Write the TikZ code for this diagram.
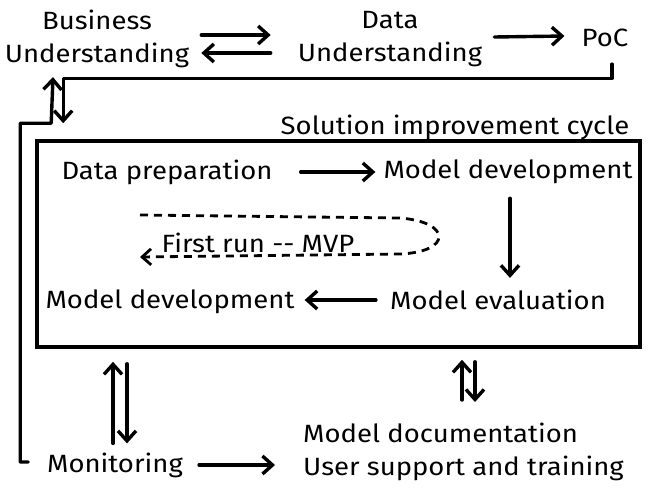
\documentclass[tikz,border=0pt]{standalone}
\usepackage{fontspec}
\setmainfont{Fira Sans}[FakeStretch=1.1]
\usetikzlibrary{arrows.meta}
\begin{document}
\begin{tikzpicture}[x=1pt,y=-1pt,
  lbl/.style={font=\fontsize{25}{33}\selectfont, inner sep=0pt, align=center},
  conn/.style={line width=3.4pt, line cap=round, line join=round,
    -{Straight Barb[length=10pt,width=18pt,line width=3.4pt]}},
  frame/.style={draw, line width=3.6pt, minimum width=603pt, minimum height=206pt, inner sep=0pt},
  dashline/.style={line width=2.8pt, dash pattern=on 8pt off 6pt,
    -{Straight Barb[length=9pt,width=16pt,line width=2.8pt]}}]
\useasboundingbox (0,0) rectangle (662,501);

% top row
\node[lbl] (bu) at (97,39) {Business\\Understanding};
\node[lbl] (du) at (390,39) {Data\\Understanding};
\node[lbl] (poc) at (605,38) {PoC};
\node[lbl] (sic) at (455,127) {Solution improvement cycle};

% frame
\node[frame] (box) at (338.5,244) {};

% inside
\node[lbl] (dp) at (167,172) {Data preparation};
\node[lbl] (md1) at (508,172) {Model development};
\node[lbl] (me) at (498,300) {Model evaluation};
\node[lbl] (md2) at (170,302) {Model development};
\node[lbl] (fr) at (258,243) {First run {-}{-} MVP};

% bottom
\node[lbl] (mon) at (115,465) {Monitoring};
\node[lbl, anchor=west, align=left] (mdoc) at (303,452) {Model documentation\\User support and training};

% connectors top
\draw[conn] ([xshift=12pt,yshift=4pt]bu.east) -- ([xshift=-27pt,yshift=4pt]du.west);
\draw[conn] ([xshift=-27pt,yshift=-14pt]du.west) -- ([xshift=12pt,yshift=-14pt]bu.east);
\draw[conn] ([xshift=12pt,yshift=2pt]du.east) -- ([xshift=-17pt,yshift=2pt]poc.west);

% PoC feedback to cycle
\draw[conn] ([xshift=7pt,yshift=-17pt]poc.south) |- ([xshift=28pt,yshift=61pt]box.north west)
  -- ([xshift=28pt,yshift=16pt]box.north west);

% monitoring back to business understanding
\draw[conn] ([xshift=-7pt,yshift=3pt]box.west |- mon.west) -- ([xshift=-15pt,yshift=3pt]box.west |- mon.west)
  |- ([xshift=16pt,yshift=16pt]box.north west)
  -- ([xshift=-44pt,yshift=-9pt]bu.south);

% inside cycle
\draw[conn] ([xshift=28pt]dp.east) -- ([xshift=-8pt]md1.west);
\draw[conn] ([xshift=2pt,yshift=-14pt]md1.south) -- ([xshift=12pt,yshift=12pt]me.north);
\draw[conn] ([xshift=-14pt]me.west) -- ([xshift=10pt,yshift=2pt]md2.east);

% first run dashed loop
\draw[dashline] (140,215) -- (400,218) .. controls (452,222) and (452,252) .. (400,254) -- (140,257);

% bottom arrows
\draw[conn, shorten >=13pt] ([xshift=-2pt,yshift=9pt]mon.north) -- ([xshift=-2pt]mon.north |- box.south);
\draw[conn, shorten <=15pt] ([xshift=12pt]mon.north |- box.south) -- ([xshift=12pt,yshift=9pt]mon.north);
\draw[conn, shorten >=11pt] ([xshift=159pt,yshift=52pt]mdoc.west) -- ([xshift=159pt]mdoc.west |- box.south);
\draw[conn, shorten <=13pt] ([xshift=172pt]mdoc.west |- box.south) -- ([xshift=172pt,yshift=50pt]mdoc.west);
\draw[conn] ([xshift=16pt]mon.east) -- ([xshift=-28pt,yshift=-13pt]mdoc.west);
\end{tikzpicture}
\end{document}
